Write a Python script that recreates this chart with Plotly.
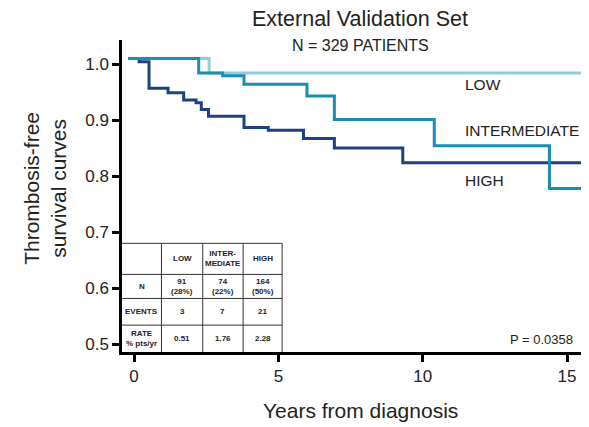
import plotly.graph_objects as go

# ---- data ----
low_t = [-0.2, 2.6, 16]
low_s = [1.01, 0.984, 0.984]
int_t = [-0.2, 2.24, 3.07, 3.81, 5.99, 6.94, 10.4, 14.39, 16]
int_s = [1.01, 0.984, 0.979, 0.964, 0.943, 0.901, 0.854, 0.778, 0.778]
high_t = [-0.2, 0.18, 0.52, 1.18, 1.72, 2.15, 2.33, 2.58, 3.81, 4.65, 5.87, 6.94, 9.31, 16]
high_s = [1.01, 1.004, 0.957, 0.949, 0.936, 0.931, 0.919, 0.907, 0.887, 0.882, 0.867, 0.85, 0.824, 0.824]

group_labels = ["LOW", "INTERMEDIATE", "HIGH"]
x_ticks = [0, 5, 10, 15]
y_ticks = [0.5, 0.6, 0.7, 0.8, 0.9, 1.0]

table_header = ["", "LOW", "INTER-<br>MEDIATE", "HIGH"]
table_rows = [
    ["N", "91<br>(28%)", "74<br>(22%)", "164<br>(50%)"],
    ["EVENTS", "3", "7", "21"],
    ["RATE<br>% pts/yr", "0.51", "1.76", "2.28"],
]
p_value_text = "P = 0.0358"

# ---- style / layout ----
FONT = "Liberation Sans, Arial, sans-serif"
TXT = "#222222"
C_LOW = "#8dd0da"
C_INT = "#1b8db3"
C_HIGH = "#1c4284"

X_RANGE = [-0.416, 15.76]
Y_RANGE = [0.486, 1.043]

# table grid (data coords)
tab_x = [X_RANGE[0], 0.95, 2.38, 3.78, 5.13]
tab_y = [0.68, 0.6245, 0.5816, 0.534, Y_RANGE[0]]

fig = go.Figure()
for t, s, c, name in [(low_t, low_s, C_LOW, "LOW"),
                      (high_t, high_s, C_HIGH, "HIGH"),
                      (int_t, int_s, C_INT, "INTERMEDIATE")]:
    fig.add_trace(go.Scatter(x=t, y=s, mode="lines", line=dict(color=c, width=3, shape="hv"),
                             name=name, showlegend=False, hoverinfo="skip"))

shapes = []
for yv in tab_y[:-1]:
    shapes.append(dict(type="line", xref="x", yref="y", x0=tab_x[0], x1=tab_x[-1], y0=yv, y1=yv,
                       line=dict(color="#333333", width=1)))
for xv in tab_x[1:]:
    shapes.append(dict(type="line", xref="x", yref="y", x0=xv, x1=xv, y0=tab_y[0], y1=tab_y[-1],
                       line=dict(color="#333333", width=1)))

annotations = []
all_rows = [table_header] + table_rows
for r, row in enumerate(all_rows):
    yc = (tab_y[r] + tab_y[r + 1]) / 2
    for c, txt in enumerate(row):
        if not txt:
            continue
        xc = (tab_x[c] + tab_x[c + 1]) / 2
        annotations.append(dict(x=xc, y=yc, xref="x", yref="y", text="<b>" + txt + "</b>",
                                showarrow=False, font=dict(family=FONT, size=8, color=TXT),
                                xanchor="center", yanchor="middle"))

# group labels
for lbl, yv in zip(group_labels, [0.964, 0.882, 0.793]):
    annotations.append(dict(x=11.4, y=yv, xref="x", yref="y", text=lbl, showarrow=False,
                            xanchor="left", yanchor="middle",
                            font=dict(family=FONT, size=15.5, color=TXT)))

annotations.append(dict(x=15.27, y=0.508, xref="x", yref="y", text=p_value_text, showarrow=False,
                        xanchor="right", yanchor="middle", font=dict(family=FONT, size=13, color=TXT)))

annotations += [
    dict(x=0.51, y=1.067, xref="paper", yref="paper", text="External Validation Set", showarrow=False,
         xanchor="center", yanchor="middle", font=dict(family=FONT, size=21.5, color=TXT)),
    dict(x=0.51, y=0.981, xref="paper", yref="paper", text="N = 329 PATIENTS", showarrow=False,
         xanchor="center", yanchor="middle", font=dict(family=FONT, size=16, color=TXT)),
    dict(x=0.51, y=-0.186, xref="paper", yref="paper", text="Years from diagnosis", showarrow=False,
         xanchor="center", yanchor="middle", font=dict(family=FONT, size=21, color=TXT)),
    dict(x=-0.165, y=0.526, xref="paper", yref="paper", text="Thrombosis-free<br>survival curves",
         showarrow=False, textangle=-90, xanchor="center", yanchor="middle",
         font=dict(family=FONT, size=21, color=TXT)),
]

# page body has an 8px margin, so the figure is 8px smaller and margins shifted
fig.update_layout(
    width=581, height=419,
    margin=dict(l=114, r=0, t=32, b=75),
    paper_bgcolor="white", plot_bgcolor="white",
    font=dict(family=FONT, color=TXT),
    shapes=shapes, annotations=annotations,
    xaxis=dict(range=X_RANGE, tickvals=x_ticks, ticks="outside", ticklen=7, tickwidth=2.5,
               tickcolor="black", showline=True, linecolor="black", linewidth=2.5,
               showgrid=False, zeroline=False, tickfont=dict(size=17, color=TXT, family=FONT)),
    yaxis=dict(range=Y_RANGE, tickvals=y_ticks, tickformat=".1f", ticks="outside", ticklen=7,
               tickwidth=2.5, tickcolor="black", showline=True, linecolor="black", linewidth=2.5,
               showgrid=False, zeroline=False, tickfont=dict(size=17, color=TXT, family=FONT)),
)

fig.write_html("out.html")
